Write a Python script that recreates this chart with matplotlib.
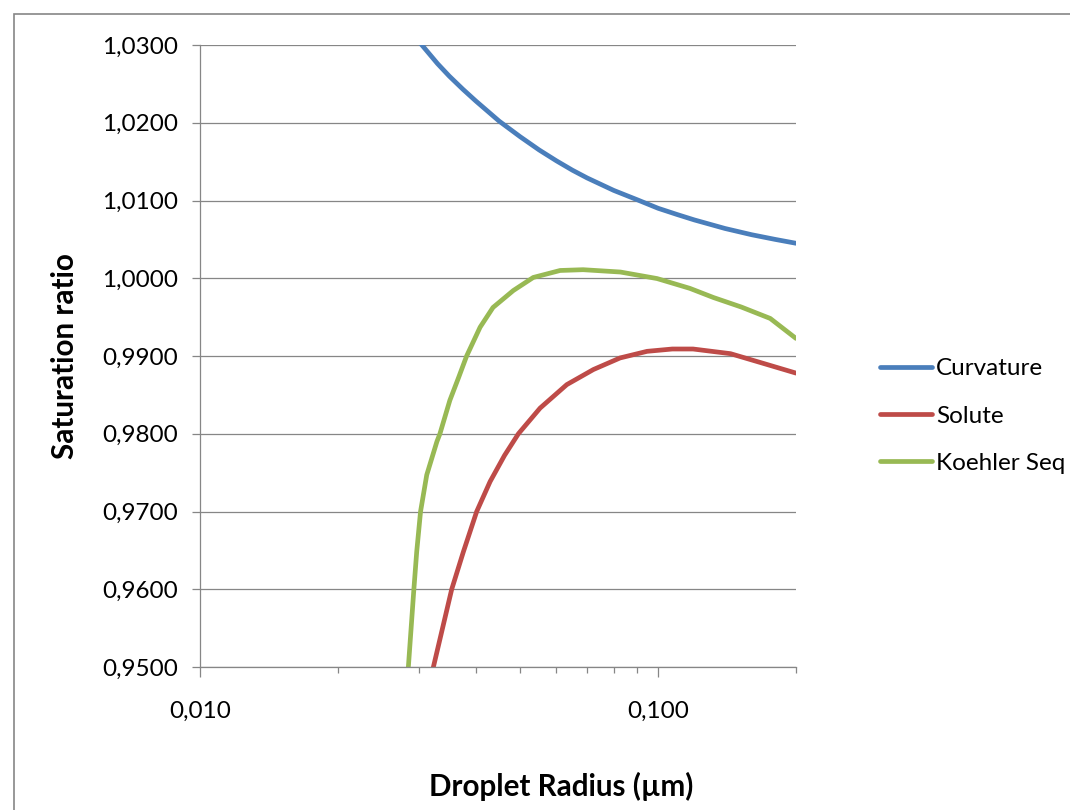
import matplotlib
matplotlib.use("Agg")
import matplotlib.pyplot as plt
from matplotlib.ticker import FixedLocator, FuncFormatter, LogLocator, NullFormatter
from matplotlib.patches import Rectangle

# values
curv_r = [0.028, 0.0305, 0.033, 0.035, 0.0375, 0.040, 0.045, 0.050, 0.055, 0.060,
          0.065, 0.070, 0.080, 0.090, 0.100, 0.110, 0.120, 0.140, 0.160, 0.180, 0.200]
curv_s = [1.0327, 1.0300, 1.0276, 1.0260, 1.0243, 1.0228, 1.0202, 1.0182, 1.0165, 1.0151,
          1.0139, 1.0129, 1.0113, 1.0101, 1.0090, 1.0082, 1.0075, 1.0064, 1.0056, 1.0050, 1.0045]

sol_r = [0.0310, 0.03232, 0.03544, 0.03757, 0.04018, 0.04298, 0.0462, 0.04955,
         0.05526, 0.0632, 0.07224, 0.0826, 0.0946, 0.1074, 0.1192, 0.1439, 0.1697, 0.2000]
sol_s = [0.9400, 0.9500, 0.9600, 0.9648, 0.9700, 0.97385, 0.9772, 0.9800,
         0.9833, 0.98632, 0.98826, 0.98975, 0.9906, 0.9909, 0.9909, 0.9903, 0.98905, 0.9878]

koe_r = [0.0275, 0.0285, 0.0293, 0.02972, 0.0303, 0.03126, 0.0329, 0.0334, 0.03511, 0.03667,
         0.0382, 0.04087, 0.04361, 0.0483, 0.05339, 0.06112, 0.06859, 0.08274, 0.0995,
         0.1173, 0.1321, 0.1519, 0.1757, 0.2000]
koe_s = [0.9400, 0.9500, 0.9600, 0.96481, 0.9700, 0.97471, 0.9790, 0.9800, 0.9843, 0.9872,
         0.9900, 0.9937, 0.99624, 0.99842, 1.0001, 1.0010, 1.0011, 1.0008, 0.99996,
         0.9987, 0.99752, 0.9963, 0.99483, 0.99226]

y_ticks = [0.95, 0.96, 0.97, 0.98, 0.99, 1.00, 1.01, 1.02, 1.03]
x_ticks = [0.01, 0.1]

plt.rcParams['font.family'] = ['Lato', 'DejaVu Sans']

W, H = 1070, 810
fig = plt.figure(figsize=(W / 100, H / 100), dpi=100)
ax = fig.add_axes([200 / W, 1 - 667 / H, (796 - 200) / W, (667 - 45) / H])

ax.plot(curv_r, curv_s, color='#4A7EBB', lw=3.4, label='Curvature', solid_capstyle='round')
ax.plot(sol_r, sol_s, color='#BE4B48', lw=3.4, label='Solute', solid_capstyle='round')
ax.plot(koe_r, koe_s, color='#98B954', lw=3.4, label='Koehler Seq', solid_capstyle='round')

ax.set_xscale('log')
ax.set_xlim(0.01, 0.2)
ax.set_ylim(0.95, 1.03)

ax.yaxis.set_major_locator(FixedLocator(y_ticks))
ax.yaxis.set_major_formatter(FuncFormatter(lambda v, p: f"{v:.4f}".replace('.', ',')))
ax.xaxis.set_major_locator(FixedLocator(x_ticks))
ax.xaxis.set_major_formatter(FuncFormatter(lambda v, p: f"{v:.3f}".replace('.', ',')))
ax.xaxis.set_minor_locator(LogLocator(base=10, subs=range(2, 10)))
ax.xaxis.set_minor_formatter(NullFormatter())

ax.grid(axis='y', color='#868686', lw=0.9)
ax.set_axisbelow(True)
for side in ['top', 'right']:
    ax.spines[side].set_visible(False)
for side in ['left', 'bottom']:
    ax.spines[side].set_color('#868686')
    ax.spines[side].set_linewidth(0.9)

ax.tick_params(axis='y', which='major', length=6, color='#868686', width=0.9,
               labelsize=17.5, pad=10)
ax.tick_params(axis='x', which='major', length=7.2, color='#868686', width=0.9,
               labelsize=17.5, pad=17)
ax.tick_params(axis='x', which='minor', length=4.5, color='#868686', width=0.9)

ax.set_ylabel('Saturation ratio', fontsize=21.3, fontweight='bold')
ax.yaxis.set_label_coords(-(200 - 79) / 596, 0.5)
ax.set_xlabel('Droplet Radius (µm)', fontsize=21.3, fontweight='bold')
ax.xaxis.set_label_coords((561 - 200) / 596, -(772 - 667) / 622)

fig.legend(loc='center left', bbox_to_anchor=(858 / W, 1 - 416 / H), frameon=False,
           fontsize=17.5, handlelength=2.15, handletextpad=0.15, labelspacing=1.08)

fig.patches.append(Rectangle((14 / W, -0.1), 1.2, 1 - 14 / H + 0.1,
                             transform=fig.transFigure, fill=False,
                             edgecolor='#868686', lw=1.2))

fig.savefig('out.png', dpi=100)
